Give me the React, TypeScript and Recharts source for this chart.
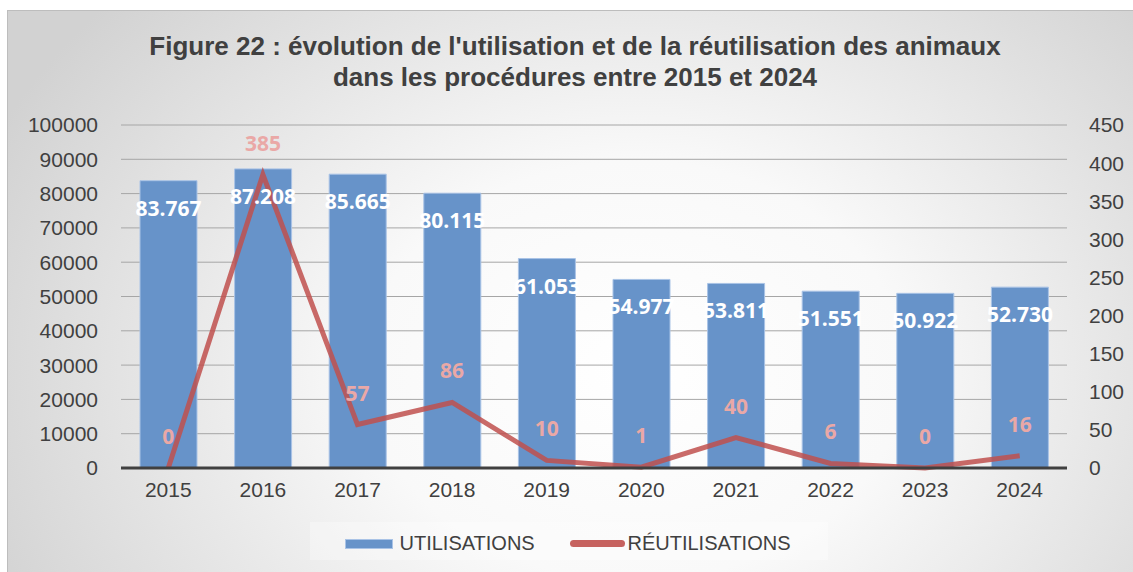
import React from 'react';
import { ComposedChart, Bar, Line, XAxis, YAxis, CartesianGrid, LabelList, Legend } from 'recharts';

const years = ['2015', '2016', '2017', '2018', '2019', '2020', '2021', '2022', '2023', '2024'];
const utilisations = [83767, 87208, 85665, 80115, 61053, 54977, 53811, 51551, 50922, 52730];
const reutilisations = [0, 385, 57, 86, 10, 1, 40, 6, 0, 16];
const leftTicks = [0, 10000, 20000, 30000, 40000, 50000, 60000, 70000, 80000, 90000, 100000];
const rightTicks = [0, 50, 100, 150, 200, 250, 300, 350, 400, 450];

const data = years.map((y, i) => ({ year: y, util: utilisations[i], reutil: reutilisations[i] }));

const W = 1133;
const H = 572;
const BAR = '#6793c9';
const LINE = '#c0504d';
const TXT = '#404040';

const fmt = (v: number) => String(v).replace(/\B(?=(\d{3})+(?!\d))/g, '.');

const BarLabel = (props: any) => {
  const { x, y, width, value } = props;
  return (
    <text x={x + width / 2} y={y + 27} textAnchor="middle" dominantBaseline="central"
      fill="#ffffff" fontFamily="'Open Sans', sans-serif" fontWeight={700} fontSize={21}>
      {fmt(value)}
    </text>
  );
};

const LineLabel = (props: any) => {
  const { x, y, value } = props;
  return (
    <text x={x} y={y - 32} textAnchor="middle" dominantBaseline="central"
      fill="#eaa8a6" fontFamily="'Open Sans', sans-serif" fontWeight={700} fontSize={21}>
      {value}
    </text>
  );
};

const LegendContent = () => (
  <div style={{ height: 38, display: 'flex', justifyContent: 'center' }}>
    <div style={{
      position: 'relative', width: 518, height: 38, marginLeft: 4,
      background: 'rgba(255,255,255,0.3)',
      fontFamily: "'Liberation Sans', Arial, sans-serif", fontSize: 20, color: TXT,
    }}>
      <div style={{ position: 'absolute', left: 35, top: 17, width: 48, height: 10, background: BAR, border: '1px solid #a9c3e6', boxSizing: 'border-box' }} />
      <div style={{ position: 'absolute', left: 90, top: 9, lineHeight: '24px' }}>UTILISATIONS</div>
      <div style={{ position: 'absolute', left: 260, top: 18, width: 55, height: 7, background: '#c6625f', borderRadius: 4 }} />
      <div style={{ position: 'absolute', left: 318, top: 9, lineHeight: '24px' }}>RÉUTILISATIONS</div>
    </div>
  </div>
);

export default function App() {
  return (
    <div style={{ position: 'absolute', left: 0, top: 0, width: W, height: H, background: '#ffffff', overflow: 'hidden' }}>
      <div style={{
        position: 'absolute', left: 7, top: 10, width: W + 10, height: H + 10,
        border: '1px solid #bdbdbd', boxSizing: 'border-box',
        background: 'radial-gradient(ellipse 62% 95% at 55% 62%, #ffffff 0%, #f9f9f9 38%, #d2d2d2 100%)',
      }} />
      <div style={{
        position: 'absolute', left: 0, top: 31, width: 1150, textAlign: 'center',
        fontFamily: "'Liberation Sans', Arial, sans-serif", fontWeight: 700, fontSize: 26,
        lineHeight: '31px', color: TXT,
      }}>
        Figure 22 : évolution de l'utilisation et de la réutilisation des animaux<br />
        dans les procédures entre 2015 et 2024
      </div>
      <div style={{ position: 'absolute', left: 0, top: 0 }}>
        <ComposedChart width={W} height={H} data={data}
          margin={{ top: 125, right: 0, bottom: 12, left: 0 }}>
          <CartesianGrid vertical={false} stroke="#a6a6a6" strokeWidth={1} yAxisId="left" />
          <XAxis dataKey="year" height={54} tickSize={0} tickMargin={14}
            axisLine={{ stroke: '#404040', strokeWidth: 3 }} tickLine={false}
            tick={{ fill: TXT, fontSize: 21, fontFamily: "'Liberation Sans', Arial, sans-serif" }} />
          <YAxis yAxisId="left" width={121} domain={[0, 100000]} ticks={leftTicks}
            axisLine={false} tickLine={false} tickSize={0} tickMargin={23} interval={0}
            tick={{ fill: TXT, fontSize: 21, fontFamily: "'Liberation Sans', Arial, sans-serif" }} />
          <YAxis yAxisId="right" orientation="right" width={66} domain={[0, 450]} ticks={rightTicks}
            axisLine={false} tickLine={false} tickSize={0} tickMargin={22} interval={0}
            tick={{ fill: TXT, fontSize: 21, fontFamily: "'Liberation Sans', Arial, sans-serif", textAnchor: 'start' }} />
          <Legend verticalAlign="bottom" content={<LegendContent />} />
          <Bar yAxisId="left" dataKey="util" name="UTILISATIONS" fill={BAR} stroke="#a9c3e6" strokeWidth={1}
            barSize={57} isAnimationActive={false}>
            <LabelList dataKey="util" content={<BarLabel />} />
          </Bar>
          <Line yAxisId="right" dataKey="reutil" name="RÉUTILISATIONS" type="linear" stroke={LINE}
            strokeOpacity={0.85} strokeWidth={5} dot={false} activeDot={false} isAnimationActive={false}>
            <LabelList dataKey="reutil" content={<LineLabel />} />
          </Line>
        </ComposedChart>
      </div>
    </div>
  );
}
